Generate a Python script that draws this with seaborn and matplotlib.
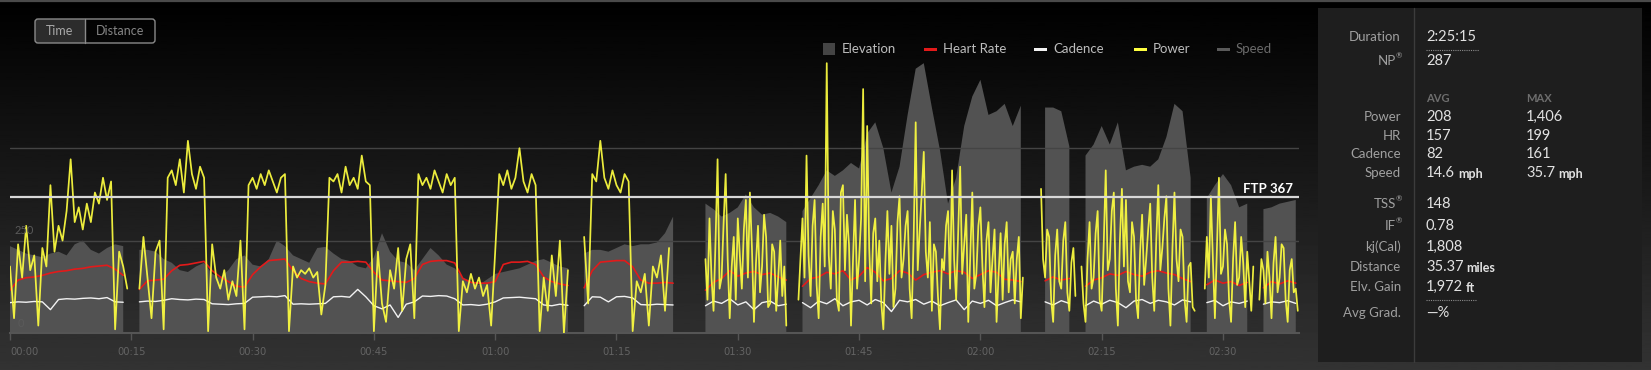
import numpy as np
import pandas as pd
import matplotlib
matplotlib.use("Agg")
import matplotlib.pyplot as plt
import seaborn as sns
from matplotlib.patches import Rectangle, FancyBboxPatch

nan = np.nan

# time grids in minutes
t_power_a = np.arange(0, 86, 0.5)        # interval part, 30 s samples
t_power_b = np.arange(86, 159.5, 0.25)   # group-ride part, 15 s samples
t_slow = np.arange(0, 160, 1)

# power (W), 0 - 85.5 min
power_a = [
    180, 40, 240, 150, 290, 170, 210, 20, 230, 180,
    400, 220, 290, 250, 330, 470, 300, 340, 280, 350,
    300, 380, 350, 420, 360, 410, 10, 220, 180, 120,
    nan, nan, 120, 260, 150, 40, 220, 250, 10, 420,
    440, 400, 470, 380, 520, 430, 390, 450, 420, 5,
    240, 150, 120, 170, 90, 140, 100, 250, 10, 400,
    420, 390, 430, 400, 440, 410, 380, 420, 430, 5,
    180, 150, 170, 160, 175, 150, 165, 50, 130, 420,
    410, 430, 380, 450, 400, 420, 390, 480, 410, 400,
    5, 220, 80, 30, 170, 120, 230, 60, 200, 240,
    40, 430, 400, 420, 390, 440, 410, 380, 430, 400,
    420, 5, 140, 110, 160, 120, 150, 100, 130, 20,
    220, 430, 400, 440, 390, 420, 500, 410, 380, 430,
    400, 5, 150, 60, 210, 100, 250, 0, 170, nan,
    nan, nan, 260, 80, 430, 410, 520, 420, 390, 440,
    400, 380, 430, 410, 5, 140, 110, 160, 20, 180,
    150, 210, 60, 230, nan, nan, nan, nan, nan, nan,
    nan, nan,
]

# power (W), 86 - 159.25 min
power_b = [
    200, 90, 310, 150, 60, 250, 470, 120, 150, 300,
    430, 200, 40, 180, 260, 90, 310, 210, 120, 280,
    360, 150, 380, 230, 30, 190, 290, 110, 180, 320,
    260, 70, 80, 240, 220, 60, 150, 250, 100, 180,
    20, nan, nan, nan, nan, nan, 90, 200,
    310, 150, 480, 210, 100, 290, 360, 130,
    40, 260, 350, 180, 730, 210, 120, 330,
    280, 90, 60, 380, 400, 170, 320, 240,
    20, 200, 360, 120, 200, 310, 660, 140,
    560, 230, 80, 270, 310, 140, 250, 80,
    10, 190, 330, 160, 290, 70, 120, 300,
    370, 150, 200, 290, 330, 120, 40, 260,
    570, 170, 280, 380, 490, 220, 150, 300,
    60, 240, 220, 100, 10, 200, 170, 290,
    330, 120, 440, 200, 90, 270, 450, 160,
    240, 320, 30, 210, 380, 120, 160, 290,
    340, 180, 70, 250, 300, 110, 200, 280,
    30, 160, 270, 90, 240, 300, 110, 200,
    220, 80, 200, 260, 40, 150, nan, nan,
    nan, nan, nan, nan, nan, nan, 390, 200,
    150, 280, 260, 90, 30, 210, 280, 140,
    120, 250, 300, 110, 60, 190, 230, 100,
    nan, nan, 180, 80, 30, 200, 300, 120,
    150, 270, 330, 90, 60, 240, 440, 170,
    200, 330, 380, 120, 20, 250, 390, 180,
    360, 140, 110, 300, 260, 90, 40, 220,
    320, 130, 200, 280, 350, 150, 60, 250,
    400, 170, 230, 310, 370, 120, 20, 230,
    380, 200, 140, 280, 260, 90, 30, 180,
    190, 70, 60, nan, nan, nan, nan, 120,
    260, 150, 370, 200, 40, 230, 420, 160,
    180, 280, 240, 90, 30, 200, 300, 130,
    150, 260, 190, 70, 220, 140, 60, 180,
    nan, nan, 90, 200, 170, 80, 220, 150,
    40, 190, 260, 110, 150, 240, 230, 90,
    30, 170, 200, 110, 120, 60,
]

# elevation (ft, arbitrary base), one value per minute
elevation = [
    235, 225, 215, 210, 205, 215, 220, 210, 240, 250,
    225, 215, 230, 240, 235, nan, 225, 225, 220, 200,
    190, 170, 165, 180, 190, 160, 150, 170, 200, 210,
    185, 180, 200, 250, 235, 210, 200, 190, 230, 233,
    215, 200, 195, 180, 175, 205, 270, 220, 195, 190,
    170, 200, 230, 210, 185, 175, 150, 140, 130, 145,
    160, 165, 170, 175, 185, 195, 200, 190, 180, 175,
    nan, 215, 225, 225, 220, 230, 240, 235, 240, 240,
    245, 270, 315, nan, nan, nan, 350, 335, 315, 325,
    340, 375, 340, 320, 325, 315, 300, nan, 330, 365,
    400, 440, 425, 440, 460, 445, 540, 570, 500, 380,
    450, 590, 715, 730, 610, 495, 350, 420, 560, 640,
    685, 590, 600, 620, 560, 615, nan, nan, 610, 610,
    600, 505, nan, 480, 510, 560, 510, 570, 440, 450,
    455, 450, 470, 530, 620, 600, 420, nan, 365, 400,
    430, 400, 340, 350, nan, 335, 340, 350, 355, 360,
]

# heart rate (bpm), one value per minute
heart_rate = [
    125, 138, 141, 142, 144, 147, 149, 150, 152, 153,
    155, 156, 157, 152, 144, nan, 126, 137, 138, 139,
    150, 157, 158, 160, 162, 150, 142, 136, 130, 129,
    145, 155, 163, 164, 165, 150, 140, 136, 134, 133,
    150, 161, 161, 162, 161, 148, 138, 137, 136, 135,
    140, 158, 162, 163, 163, 160, 140, 135, 134, 134,
    136, 158, 161, 161, 162, 158, 142, 136, 133, 131,
    nan, 128, 150, 161, 162, 163, 163, 155, 138, 134,
    134, 135, 134, nan, nan, nan, 125, 135, 140, 150,
    143, 147, 149, 145, 147, 142, 138, nan, 130, 140,
    142, 148, 146, 150, 138, 143, 154, 148, 137, 140,
    150, 147, 138, 145, 148, 150, 146, 150, 148, 140,
    145, 150, 148, 139, 138, 136, nan, nan, 137, 142,
    138, 140, nan, 130, 138, 141, 146, 144, 149, 145,
    143, 148, 150, 147, 145, 140, 136, nan, 132, 138,
    134, 136, 131, 135, nan, 128, 136, 133, 137, 134,
]

# cadence (rpm), one value per minute
cadence = [
    78, 80, 79, 81, 80, 60, 86, 88, 87, 89,
    90, 88, 91, 80, 79, nan, 80, 82, 81, 84,
    88, 86, 85, 87, 86, 75, 74, 73, 75, 76,
    92, 93, 94, 93, 96, 74, 75, 74, 75, 76,
    93, 94, 92, 112, 93, 70, 62, 72, 40, 74,
    80, 95, 94, 96, 95, 88, 72, 73, 71, 74,
    80, 90, 91, 92, 90, 88, 72, 70, 74, 71,
    nan, 70, 93, 92, 80, 93, 94, 90, 73, 72,
    74, 73, 72, nan, nan, nan, 70, 82, 76, 88,
    72, 80, 60, 78, 82, 70, 74, nan, 78, 65,
    82, 75, 88, 70, 80, 84, 72, 86, 78, 55,
    84, 80, 86, 74, 82, 70, 78, 85, 60, 82,
    76, 84, 70, 78, 85, 80, nan, nan, 80, 72,
    83, 76, nan, 70, 82, 74, 84, 78, 65, 82,
    86, 76, 84, 80, 72, 85, 80, nan, 78, 84,
    70, 80, 76, 82, nan, 74, 80, 78, 83, 76,
]

ftp = 367
tick_minutes = [0, 15, 30, 45, 60, 75, 90, 105, 120, 135, 150]
tick_labels = ["00:00", "00:15", "00:30", "00:45", "01:00", "01:15",
               "01:30", "01:45", "02:00", "02:15", "02:30"]

# summary panel
panel_labels = ["Duration", "NP", "Power", "HR", "Cadence", "Speed",
                "TSS", "IF", "kj(Cal)", "Distance", "Elv. Gain", "Avg Grad."]
panel_avg = ["2:25:15", "287", "208", "157", "82", "14.6",
             "148", "0.78", "1,808", "35.37", "1,972", "\u2014%"]
panel_max = ["", "", "1,406", "199", "161", "35.7", "", "", "", "", "", ""]
panel_unit = ["", "", "", "", "", "mph", "", "", "", "miles", "ft", ""]
panel_reg = ["NP", "TSS", "IF"]
row_y = [37, 61, 117, 136, 154, 173, 204, 226, 247, 267, 287, 313]

legend_names = ["Elevation", "Heart Rate", "Cadence", "Power", "Speed"]
legend_colors = ["#444444", "#e31a1a", "#f2f2f2", "#ffff40", "#5a5a5a"]
legend_x = [823, 924, 1034, 1134, 1217]


def segments(df, col):
    df = df.copy()
    df["seg"] = df[col].isna().cumsum()
    return df.dropna()


sns.set_theme(style="dark")
plt.rcParams["font.family"] = ["Lato", "DejaVu Sans"]

W, H = 1651, 370
fig = plt.figure(figsize=(W / 100, H / 100), dpi=100)

# background gradient
bg = fig.add_axes([0, 0, 1, 1], zorder=-10)
bg.imshow(np.linspace(0.0, 0.2, 256).reshape(-1, 1), cmap="gray", vmin=0, vmax=1,
          aspect="auto", extent=[0, 1, 0, 1])
bg.axis("off")

x0, x1, ytop, ybot = 10, 1299, 41, 333
ax = fig.add_axes([x0 / W, 1 - ybot / H, (x1 - x0) / W, (ybot - ytop) / H])
ax.set_facecolor("none")
ax.fill_between(t_slow, 0, np.array(elevation, dtype=float), color="#525252", lw=0)
ax.set_ylim(0, 790)
ax.set_yticks([])
ax.set_xticks(tick_minutes)
ax.set_xticklabels(tick_labels)
ax.tick_params(axis="x", direction="out", length=5, width=1, color="#555555",
               labelcolor="#636363", labelsize=8, pad=5, bottom=True)
for lbl in ax.get_xticklabels():
    lbl.set_fontfamily("DejaVu Sans")
    lbl.set_fontstretch("condensed")
ax.get_xticklabels()[0].set_horizontalalignment("left")
for s in ["top", "left", "right"]:
    ax.spines[s].set_visible(False)
ax.spines["bottom"].set_color("#555555")
ax.spines["bottom"].set_linewidth(1.5)
ax.grid(False)


def twin(ylim):
    a = ax.twinx()
    a.set_ylim(*ylim)
    a.set_yticks([])
    for s in a.spines.values():
        s.set_visible(False)
    return a


hr_df = segments(pd.DataFrame({"t": t_slow, "hr": heart_rate}), "hr")
cad_df = segments(pd.DataFrame({"t": t_slow, "cad": cadence}), "cad")
pw_df = segments(pd.DataFrame({"t": np.concatenate([t_power_a, t_power_b]),
                               "power": power_a + power_b}), "power")

ax_hr = twin((70, 445))
sns.lineplot(data=hr_df, x="t", y="hr", units="seg", estimator=None,
             color="#e31a1a", lw=1.2, ax=ax_hr, legend=False)
ax_hr.set_ylabel("")

ax_cad = twin((0, 750))
sns.lineplot(data=cad_df, x="t", y="cad", units="seg", estimator=None,
             color="#f2f2f2", lw=1.0, ax=ax_cad, legend=False)
ax_cad.set_ylabel("")

ax_pw = twin((0, 790))
for g in (250, 500):
    ax_pw.axhline(g, color="#444444", lw=1, zorder=0)
sns.lineplot(data=pw_df, x="t", y="power", units="seg", estimator=None,
             color="#ffff40", lw=1.25, alpha=0.92, ax=ax_pw, legend=False)
ax_pw.axhline(ftp, color="#d8d8d8", lw=1.6, zorder=5)
ax_pw.set_ylabel("")
ax_pw.text(158.6, ftp + 23, f"FTP {ftp}", ha="right", va="center", color="white",
           fontsize=9.5, fontweight="bold", zorder=6)
ax_pw.text(0.6, 276, "250", ha="left", va="center", color="#5a5a5a", fontsize=8)
ax_pw.text(1.0, 27, "0", ha="left", va="center", color="#5a5a5a", fontsize=8)
for a in (ax, ax_hr, ax_cad, ax_pw):
    a.set_xlim(0, 159.4)

# decorations in pixel coordinates
deco = fig.add_axes([0, 0, 1, 1], zorder=5)
deco.set_xlim(0, W)
deco.set_ylim(H, 0)
deco.axis("off")
deco.plot([0, W], [0.8, 0.8], color="#4a4a4a", lw=1.6)

# Time / Distance toggle
deco.add_patch(FancyBboxPatch((35, 19), 50, 24, boxstyle="round,pad=0,rounding_size=2",
                              fc="#2c2c2c", ec="none"))
deco.add_patch(FancyBboxPatch((35, 19), 120, 24, boxstyle="round,pad=0,rounding_size=3",
                              fc="none", ec="#8a8a8a", lw=1))
deco.plot([85, 85], [19, 43], color="#8a8a8a", lw=1)
deco.text(60, 31, "Time", ha="center", va="center", color="#a8a8a8", fontsize=9)
deco.text(120, 31, "Distance", ha="center", va="center", color="#858585", fontsize=9)

# legend
for name, col, lx in zip(legend_names, legend_colors, legend_x):
    if name == "Elevation":
        deco.add_patch(Rectangle((lx, 43), 12, 12, fc=col, ec="none"))
    else:
        deco.add_patch(Rectangle((lx, 47.5), 13, 3, fc=col, ec="none"))
    tcol = "#6a6a6a" if name == "Speed" else "#bdbdbd"
    deco.text(lx + 19, 49, name, ha="left", va="center", color=tcol, fontsize=9.5)

# summary panel
deco.add_patch(Rectangle((1318, 8), 324, 354, fc="#1e1e1e", ec="none"))
deco.plot([1414, 1414], [8, 362], color="#3c3c3c", lw=1)
deco.text(1426, 98, "AVG", ha="left", va="center", color="#6e6e6e", fontsize=8, fontweight="bold")
deco.text(1526, 98, "MAX", ha="left", va="center", color="#6e6e6e", fontsize=8, fontweight="bold")
fig.canvas.draw()
renderer = fig.canvas.get_renderer()
for lab, avg, mx, unit, y in zip(panel_labels, panel_avg, panel_max, panel_unit, row_y):
    if lab in panel_reg:
        deco.text(1396, y, lab, ha="right", va="center", color="#a0a0a0", fontsize=9.5)
        deco.text(1395.5, y - 5, "\u00ae", ha="left", va="center", color="#a0a0a0", fontsize=5.5)
    else:
        deco.text(1401, y, lab, ha="right", va="center", color="#a0a0a0", fontsize=9.5)
    for val, vx in ((avg, 1426), (mx, 1526)):
        if not val:
            continue
        t = deco.text(vx, y, val, ha="left", va="center", color="#e2e2e2", fontsize=10.5)
        if unit:
            bb = t.get_window_extent(renderer=renderer)
            deco.text(bb.x1 + 3, y + 1, unit, ha="left", va="center", color="#e2e2e2",
                      fontsize=9, fontweight="bold")
deco.plot([1426, 1479], [50, 50], color="#8a8a8a", lw=0.8, ls=(0, (1, 1)))
deco.plot([1426, 1477], [300, 300], color="#8a8a8a", lw=0.8, ls=(0, (1, 1)))

fig.savefig("out.png", dpi=100)
